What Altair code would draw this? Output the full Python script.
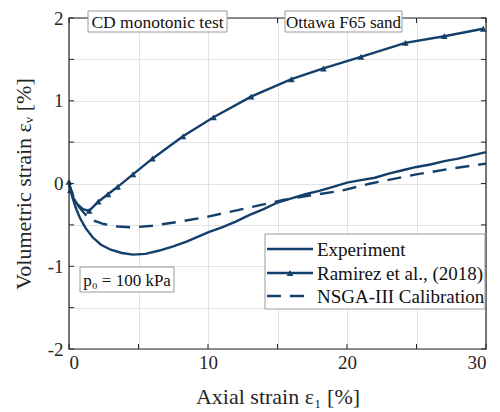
import altair as alt
import pandas as pd

# ---------------- data ----------------
exp_x = [0, 0.1, 0.25, 0.5, 0.8, 1.2, 1.7, 2.3, 3, 3.8, 4.6, 5.5, 6.5, 7.5, 8.5, 10, 11, 12, 13, 14, 15,
         16, 17, 18, 19, 20, 21, 22, 23, 24, 25, 26, 27, 28, 29, 30]
exp_y = [0, -0.07, -0.17, -0.30, -0.42, -0.54, -0.65, -0.74, -0.80, -0.84, -0.86, -0.85, -0.81, -0.76, -0.70,
         -0.59, -0.53, -0.46, -0.38, -0.31, -0.23, -0.18, -0.13, -0.09, -0.04, 0.01, 0.04, 0.07, 0.12, 0.16,
         0.20, 0.23, 0.27, 0.30, 0.34, 0.38]

ram_x = [0, 0.1, 0.3, 0.6, 1.0, 1.45, 2.1, 2.8, 3.5, 4.6, 6.0, 8.2, 10.4, 13.1, 16.0, 18.3, 21.0, 24.2, 27.0, 29.8]
ram_y = [0.02, -0.08, -0.17, -0.25, -0.31, -0.33, -0.22, -0.13, -0.04, 0.11, 0.30, 0.57, 0.80, 1.05, 1.26,
         1.39, 1.53, 1.70, 1.78, 1.87]
ram_marker = [True, True, False, False, False, True, True, True, True, True, True, True, True, True, True,
              True, True, True, True, True]

nsga_x = [0, 0.3, 0.7, 1.2, 1.8, 2.5, 3.5, 4.6, 6, 8, 10, 13, 15.4, 17.5, 19.5, 21.7, 25, 27.5, 30]
nsga_y = [0, -0.15, -0.28, -0.38, -0.45, -0.49, -0.52, -0.53, -0.51, -0.46, -0.40, -0.29, -0.20, -0.14,
          -0.09, 0.00, 0.11, 0.18, 0.24]

series_names = ["Experiment", "Ramirez et al., (2018)", "NSGA-III Calibration"]
annotations = ["CD monotonic test", "Ottawa F65 sand", "p\u2080 = 100 kPa"]

x_ticks = [0, 5, 10, 15, 20, 25, 30]
y_ticks = [-2, -1.5, -1, -0.5, 0, 0.5, 1, 1.5, 2]

# ---------------- style ----------------
NAVY = "#133f6b"
AXC = "#262626"
FONT = "Liberation Serif"
W, H = 417, 331

exp_df = pd.DataFrame({"x": exp_x, "y": exp_y})
ram_df = pd.DataFrame({"x": ram_x, "y": ram_y, "m": ram_marker})
nsga_df = pd.DataFrame({"x": nsga_x, "y": nsga_y})

xs = alt.Scale(domain=[0, 30], nice=False, zero=False)
ys = alt.Scale(domain=[-2, 2], nice=False, zero=False)

x_axis = alt.Axis(values=x_ticks, grid=True, gridColor="#e3e3e3", ticks=False, domain=False,
                  labelExpr="datum.value % 10 == 0 ? toString(datum.value) : ''",
                  labelFont=FONT, labelFontSize=19, labelColor=AXC, labelPadding=4,
                  title="Axial strain \u03b5\u2081 [%]", titleFont=FONT, titleFontSize=22,
                  titleFontWeight="normal", titleColor=AXC, titlePadding=14)
y_axis = alt.Axis(values=y_ticks, grid=True, gridColor="#e3e3e3", ticks=False, domain=False,
                  labelExpr="datum.value % 1 == 0 ? toString(datum.value) : ''",
                  labelFont=FONT, labelFontSize=19, labelColor=AXC, labelPadding=6,
                  title="Volumetric strain \u03b5\u1d65 [%]", titleFont=FONT, titleFontSize=22,
                  titleFontWeight="normal", titleColor=AXC, titlePadding=12)

base_grid = alt.Chart(exp_df).mark_line(opacity=0).encode(
    x=alt.X("x:Q", scale=xs, axis=x_axis),
    y=alt.Y("y:Q", scale=ys, axis=y_axis),
)

exp_line = alt.Chart(exp_df).mark_line(color=NAVY, strokeWidth=2.4).encode(
    x=alt.X("x:Q", scale=xs), y=alt.Y("y:Q", scale=ys))
ram_line = alt.Chart(ram_df).mark_line(color=NAVY, strokeWidth=2.4).encode(
    x=alt.X("x:Q", scale=xs), y=alt.Y("y:Q", scale=ys))
ram_pts = alt.Chart(ram_df).transform_filter("datum.m").mark_point(
    shape="triangle-up", filled=True, color=NAVY, size=45, opacity=1).encode(
    x=alt.X("x:Q", scale=xs), y=alt.Y("y:Q", scale=ys))
nsga_line = alt.Chart(nsga_df).mark_line(color=NAVY, strokeWidth=2.4, strokeDash=[14, 9]).encode(
    x=alt.X("x:Q", scale=xs), y=alt.Y("y:Q", scale=ys))

# inward ticks (box style)
xt_df = pd.DataFrame({"v": x_ticks})
yt_df = pd.DataFrame({"v": y_ticks})
tick_b = alt.Chart(xt_df).mark_rule(color=AXC, strokeWidth=1).encode(
    x=alt.X("v:Q", scale=xs), y=alt.value(H), y2=alt.value(H - 5))
tick_t = alt.Chart(xt_df).mark_rule(color=AXC, strokeWidth=1).encode(
    x=alt.X("v:Q", scale=xs), y=alt.value(0), y2=alt.value(5))
tick_l = alt.Chart(yt_df).mark_rule(color=AXC, strokeWidth=1).encode(
    y=alt.Y("v:Q", scale=ys), x=alt.value(0), x2=alt.value(5))
tick_r = alt.Chart(yt_df).mark_rule(color=AXC, strokeWidth=1).encode(
    y=alt.Y("v:Q", scale=ys), x=alt.value(W), x2=alt.value(W - 5))

frame = alt.Chart(pd.DataFrame({"a": [0]})).mark_rect(
    fill=None, stroke=AXC, strokeWidth=1.2).encode(
    x=alt.value(0), x2=alt.value(W), y=alt.value(0), y2=alt.value(H))

# annotation boxes
def ann_box(text, x0, x1, y0, y1, fs):
    d = pd.DataFrame({"t": [text]})
    box = alt.Chart(d).mark_rect(fill="white", stroke="#9a9a9a", strokeWidth=1).encode(
        x=alt.value(x0), x2=alt.value(x1), y=alt.value(y0), y2=alt.value(y1))
    txt = alt.Chart(d).mark_text(font=FONT, fontSize=fs, color="#111111", align="center",
                                 baseline="middle").encode(
        text="t:N", x=alt.value((x0 + x1) / 2), y=alt.value((y0 + y1) / 2 + 1))
    return box + txt

ann1 = ann_box(annotations[0], 19, 158, -7, 14, 17.5)
ann2 = ann_box(annotations[1], 216, 333, -7, 14, 17)
ann3 = ann_box(annotations[2], 11, 105, 249, 274, 17)

# legend
LX0, LX1, LY0, LY1 = 196, 416, 216, 291
leg_box = alt.Chart(pd.DataFrame({"a": [0]})).mark_rect(
    fill="white", stroke="#9a9a9a", strokeWidth=1).encode(
    x=alt.value(LX0), x2=alt.value(LX1), y=alt.value(LY0), y2=alt.value(LY1))
row_y = [231, 255, 278]
leg_layers = [leg_box]
for i, name in enumerate(series_names):
    d = pd.DataFrame({"t": [name]})
    kw = dict(color=NAVY, strokeWidth=2.4)
    if i == 2:
        kw["strokeDash"] = [14, 9]
    leg_layers.append(alt.Chart(d).mark_rule(**kw).encode(
        x=alt.value(198), x2=alt.value(244), y=alt.value(row_y[i])))
    if i == 1:
        leg_layers.append(alt.Chart(d).mark_point(shape="triangle-up", filled=True, color=NAVY,
                                                  size=45, opacity=1).encode(
            x=alt.value(221), y=alt.value(row_y[i])))
    leg_layers.append(alt.Chart(d).mark_text(font=FONT, fontSize=19, color="#111111", align="left",
                                             baseline="middle").encode(
        text="t:N", x=alt.value(248), y=alt.value(row_y[i] + 1)))

chart = alt.layer(
    base_grid, nsga_line, exp_line, ram_line, ram_pts,
    tick_b, tick_t, tick_l, tick_r, frame,
    ann1, ann2, ann3, *leg_layers
).properties(
    width=W, height=H,
    autosize=alt.AutoSizeParams(type="none"),
    padding={"left": 69, "top": 18, "right": 14, "bottom": 63},
).configure_view(stroke=None).configure(background="white")

chart.save("out.html", embed_options={"renderer": "svg", "actions": False})
